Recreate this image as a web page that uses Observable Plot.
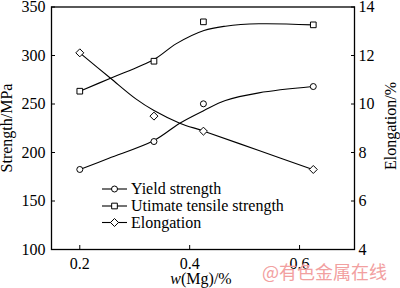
<!DOCTYPE html>
<html>
<head>
<meta charset="utf-8">
<script src="https://cdn.jsdelivr.net/npm/d3@7"></script>
<script src="https://cdn.jsdelivr.net/npm/@observablehq/plot@0.6"></script>
<style>
  html, body { margin: 0; padding: 0; background: #fff; }
  #chart { width: 400px; height: 288px; }
  .serifplot text, .serifplot tspan { font-family: "Liberation Serif" !important; font-variant: normal !important; font-variant-numeric: normal !important; }
  .serifplot text.wm { font-family: "Noto Sans CJK SC" !important; }
</style>
</head>
<body>
<div id="chart"></div>
<script>
// ---- data ----
const massFraction    = [0.2, 0.335, 0.425, 0.625];      // w(Mg)/%
const yieldStrength   = [182.5, 211.3, 250.2, 268.0];    // MPa
const tensileStrength = [263.2, 294.1, 334.7, 331.6];    // MPa
const elongation      = [12.11, 9.50, 8.88, 7.30];       // %

// fitted curves
const yieldFitX    = [0.2, 0.253, 0.335, 0.382, 0.426, 0.465, 0.526, 0.624];
const yieldFit     = [182.5, 194.1, 212.4, 230.2, 243.3, 253.6, 261.5, 268.0];
const tensileFitX  = [0.2, 0.256, 0.335, 0.375, 0.426, 0.465, 0.526, 0.624];
const tensileFit   = [263.2, 276.6, 295.9, 312.0, 325.8, 330.2, 332.7, 331.6];
const elongFitX    = [0.2, 0.256, 0.302, 0.335, 0.382, 0.426, 0.526, 0.624];
const elongFit     = [12.11, 11.06, 10.21, 9.73, 9.21, 8.88, 8.08, 7.30];

const xTicks        = [0.2, 0.4, 0.6];
const strengthTicks = [100, 150, 200, 250, 300, 350];
const elongTicks    = [4, 6, 8, 10, 12, 14];
const seriesNames   = ["Yield strength", "Utimate tensile strength", "Elongation"];
const xLabel = ["w", "(Mg)/%"];
const yLabelLeft = "Strength/MPa";
const yLabelRight = "Elongation/%";
const watermark = "@有色金属在线";

// right axis (elongation 4..14) mapped onto the strength scale (100..350)
const elongToY = e => 100 + (e - 4) * 25;
const yToElong = y => (y - 100) / 25 + 4;

const pts = (xs, ys, f = d => d) => xs.map((x, i) => ({x, y: f(ys[i])}));

const serif = "Liberation Serif";
const dotStyle = {x: "x", y: "y", stroke: "#000", fill: "#fff", strokeWidth: 1};
const lineStyle = {x: "x", y: "y", stroke: "#000", strokeWidth: 1.1, curve: "catmull-rom"};
const axisText = {fontVariant: "normal", fontFamily: serif, fontSize: 16, label: null};

const chart = Plot.plot({
  width: 400,
  height: 288,
  marginLeft: 51,
  marginRight: 46,
  marginTop: 6.5,
  marginBottom: 39,
  className: "serifplot",
  style: {fontFamily: serif, fontSize: "16px", color: "#000", background: "#fff"},
  x: {domain: [0.1485, 0.7]},
  y: {domain: [100, 350]},
  marks: [
    Plot.axisX(xTicks, {...axisText, anchor: "bottom", tickSize: -4, tickPadding: 12, tickFormat: d => d.toFixed(1)}),
    Plot.axisY(strengthTicks, {...axisText, anchor: "left", tickSize: -4, tickPadding: 10}),
    Plot.axisY(elongTicks.map(elongToY), {...axisText, anchor: "right", tickSize: -4, tickPadding: 8, tickFormat: d => String(Math.round(yToElong(d)))}),
    Plot.line(pts(yieldFitX, yieldFit), lineStyle),
    Plot.line(pts(tensileFitX, tensileFit), lineStyle),
    Plot.line(pts(elongFitX, elongFit, elongToY), lineStyle),
    Plot.dot(pts(massFraction, yieldStrength), {...dotStyle, symbol: "circle", r: 3}),
    Plot.dot(pts(massFraction, tensileStrength), {...dotStyle, symbol: "square", r: 3.2}),
    Plot.dot(pts(massFraction, elongation, elongToY), {...dotStyle, symbol: "diamond2", r: 3.6}),
    Plot.frame({stroke: "#000", strokeWidth: 1.3})
  ]
});

const svg = d3.select(chart);
const addText = (sel) => sel.attr("font-family", serif).attr("font-size", 16).attr("fill", "#000");

// axis titles
addText(svg.append("text"))
  .attr("transform", "translate(12,128) rotate(-90)")
  .attr("text-anchor", "middle")
  .text(yLabelLeft);
addText(svg.append("text"))
  .attr("transform", "translate(396,126) rotate(-90)")
  .attr("text-anchor", "middle")
  .text(yLabelRight);
const xl = addText(svg.append("text"))
  .attr("x", 201).attr("y", 284)
  .attr("text-anchor", "middle");
xl.append("tspan").attr("font-style", "italic").text(xLabel[0]);
xl.append("tspan").text(xLabel[1]);

// legend
const legendRows = [189, 206, 222.5];
const legendSymbols = [d3.symbolCircle, d3.symbolSquare, d3.symbolDiamond2];
const legendSizes = [Math.PI * 9, Math.PI * 3.2 * 3.2, Math.PI * 3.6 * 3.6];
seriesNames.forEach((name, i) => {
  const g = svg.append("g").attr("transform", `translate(0,${legendRows[i]})`);
  g.append("line").attr("x1", 102).attr("x2", 127).attr("y1", 0).attr("y2", 0)
    .attr("stroke", "#000").attr("stroke-width", 1.1);
  g.append("path").attr("transform", "translate(114.5,0)")
    .attr("d", d3.symbol(legendSymbols[i], legendSizes[i])())
    .attr("fill", "#fff").attr("stroke", "#000").attr("stroke-width", 1);
  addText(g.append("text")).attr("x", 131).attr("y", 0).attr("dy", "0.33em")
    .attr("text-anchor", "start")
    .text(name);
});

// watermark
svg.append("text")
  .attr("class", "wm")
  .attr("x", 262).attr("y", 279)
  .attr("text-anchor", "start")
  .attr("font-family", "Noto Sans CJK SC")
  .attr("font-size", 18)
  .attr("fill", "#f2a0a0")
  .text(watermark);

document.getElementById("chart").appendChild(chart);
</script>
</body>
</html>
